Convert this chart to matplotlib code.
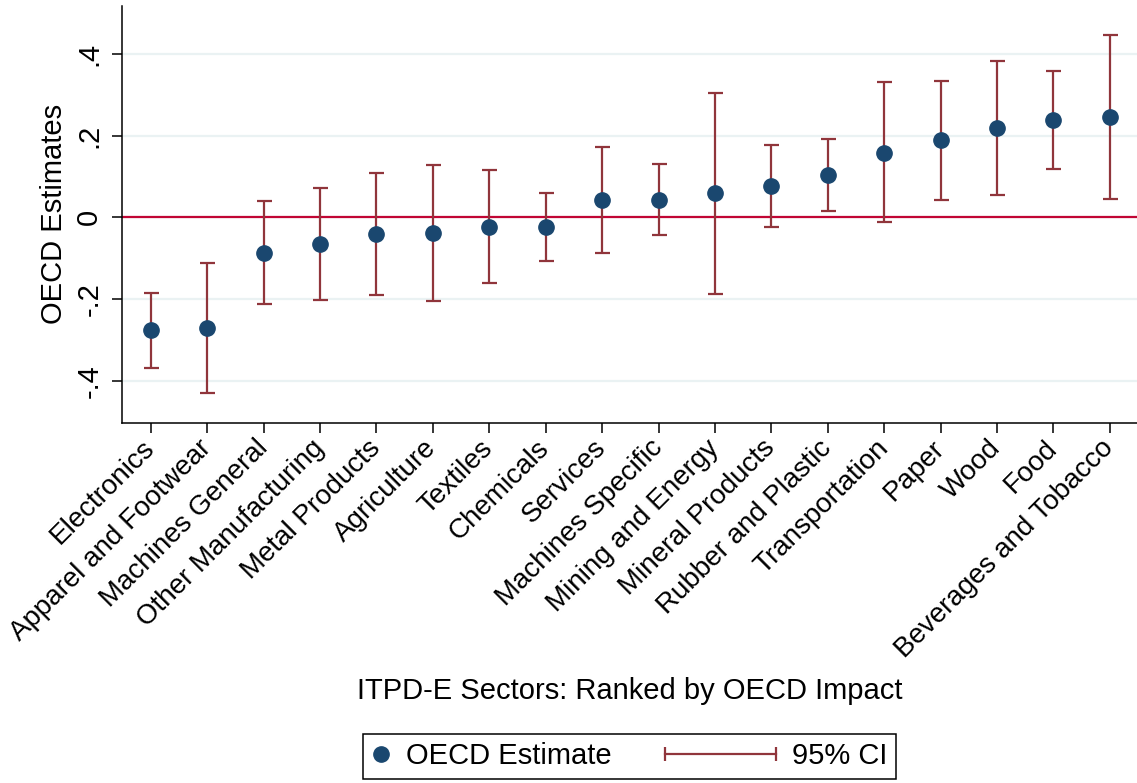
import matplotlib
matplotlib.use("Agg")
import matplotlib.pyplot as plt
from matplotlib.lines import Line2D
from matplotlib.legend_handler import HandlerBase

sectors = ["Electronics", "Apparel and Footwear", "Machines General",
           "Other Manufacturing", "Metal Products", "Agriculture", "Textiles",
           "Chemicals", "Services", "Machines Specific", "Mining and Energy",
           "Mineral Products", "Rubber and Plastic", "Transportation", "Paper",
           "Wood", "Food", "Beverages and Tobacco"]
estimate = [-0.277, -0.271, -0.088, -0.065, -0.041, -0.039, -0.023, -0.023,
            0.042, 0.043, 0.059, 0.077, 0.104, 0.159, 0.189, 0.219, 0.239, 0.246]
ci_low = [-0.369, -0.431, -0.213, -0.202, -0.190, -0.205, -0.161, -0.107,
          -0.087, -0.044, -0.187, -0.024, 0.015, -0.012, 0.042, 0.055, 0.118, 0.045]
ci_high = [-0.185, -0.111, 0.039, 0.071, 0.110, 0.128, 0.115, 0.061,
           0.172, 0.131, 0.305, 0.177, 0.192, 0.332, 0.334, 0.384, 0.360, 0.448]
yticks = [-0.4, -0.2, 0, 0.2, 0.4]
yticklabels = ["-.4", "-.2", "0", ".2", ".4"]

navy = "#1a476f"
maroon = "#90353b"
zero_col = "#c10534"
grid_col = "#eaf2f3"
fs = 21

plt.rcParams['font.family'] = ['Liberation Sans', 'DejaVu Sans']

fig = plt.figure(figsize=(11.37, 7.83), dpi=100)
ax_pos = [0.1073, 0.4602, 0.8927, 0.5321]
ax = fig.add_axes(ax_pos)

x = list(range(1, len(sectors) + 1))
lower = [e - l for e, l in zip(estimate, ci_low)]
upper = [h - e for e, h in zip(estimate, ci_high)]

for t in yticks:
  ax.axhline(t, color=grid_col, lw=1.6, zorder=0)
ax.axhline(0, color=zero_col, lw=1.6, zorder=1)

ax.errorbar(x, estimate, yerr=[lower, upper], fmt='none', ecolor=maroon,
            elinewidth=1.6, capsize=5.4, capthick=1.6, zorder=2)
ax.plot(x, estimate, 'o', color=navy, ms=11, zorder=3)

ax.set_xlim(0.49, 18.48)
ax.set_ylim(-0.503, 0.518)
ax.set_yticks(yticks)
ax.set_yticklabels(yticklabels, rotation=90, va='center', fontsize=fs)
ax.set_xticks(x)
ax.set_xticklabels(sectors, rotation=45, ha='right', va='center',
                   rotation_mode='anchor', fontsize=20)
ax.set_ylabel("OECD Estimates", fontsize=fs, labelpad=5)

for s in ["top", "right"]:
  ax.spines[s].set_visible(False)
for s in ["left", "bottom"]:
  ax.spines[s].set_linewidth(1.1)
ax.tick_params(axis='y', length=7.5, width=1.1, pad=6)
ax.tick_params(axis='x', length=7.5, width=1.1, pad=8)

xc = ax_pos[0] + ax_pos[2] / 2
fig.text(xc, 1 - 691 / 783, "ITPD-E Sectors: Ranked by OECD Impact",
         ha='center', va='center', fontsize=fs)


class CIHandler(HandlerBase):
  def create_artists(self, legend, orig_handle, xdescent, ydescent,
                     width, height, fontsize, trans):
    y = height / 2 - ydescent
    x1 = width - xdescent
    x0 = x1 - 3.8 * fontsize
    line = Line2D([x0, x1], [y, y], color=maroon, lw=1.6,
                  marker='|', ms=9.5, mew=1.6, transform=trans)
    return [line]


dot = Line2D([], [], ls='none', marker='o', color=navy, ms=11)
ci = Line2D([], [], color=maroon)
leg = fig.legend([dot, ci], ["OECD Estimate", "95% CI"], ncol=2,
                 loc='lower center', bbox_to_anchor=(xc, 0.005),
                 borderaxespad=0, borderpad=0.3, fontsize=fs,
                 handlelength=0.63, handletextpad=0.54, columnspacing=5.0,
                 fancybox=False, edgecolor='black', framealpha=1,
                 handler_map={ci: CIHandler()})
leg.get_frame().set_linewidth(1.1)

fig.savefig("out.png", dpi=100)
